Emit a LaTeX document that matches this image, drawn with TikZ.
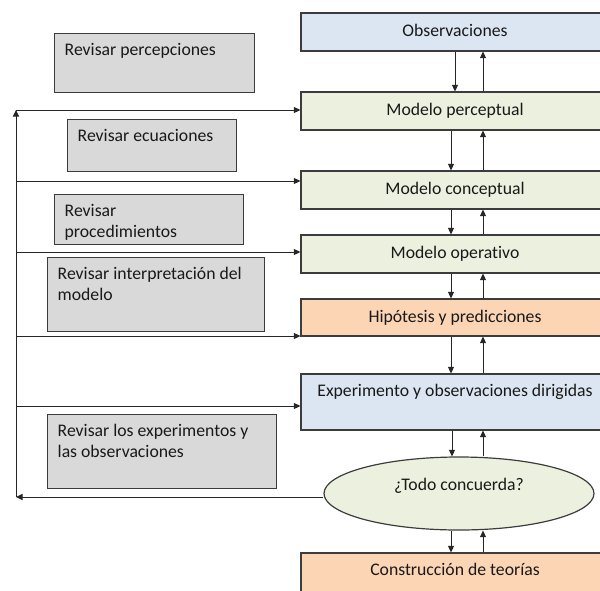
\documentclass[tikz,border=0pt]{standalone}
\usepackage{fontspec}
\setmainfont{Carlito}[Ligatures=NoCommon]
\usetikzlibrary{arrows.meta,shapes.geometric}
\definecolor{obsblue}{HTML}{DCE6F2}
\definecolor{modgreen}{HTML}{EBF1DE}
\definecolor{hypor}{HTML}{FCD5B5}
\definecolor{revgray}{HTML}{D9D9D9}
\definecolor{edge}{HTML}{3C3C3C}
\begin{document}
\begin{tikzpicture}[x=1pt,y=-1pt,
  every node/.style={font=\fontsize{17.7}{20.5}\selectfont, text=black!90},
  stage/.style={draw=edge, line width=1.2pt, rectangle, minimum width=308pt,
    minimum height=38pt, inner sep=0pt, text height=12pt, text depth=3pt},
  revbox/.style={draw=edge, fill=revgray, line width=1.2pt, rectangle,
    inner sep=0pt, anchor=north west},
  revtext/.style={inner sep=0pt, align=left, anchor=north west},
  arr/.style={-{Triangle[length=6.5pt,width=6pt]}, line width=1pt, draw=black!85},
]
\useasboundingbox (0,0) rectangle (600,590);

% main column of stages
\node[stage, fill=obsblue] (obs) at (455,32) {Observaciones};
\node[stage, fill=modgreen] (mp) at (455,111) {Modelo perceptual};
\node[stage, fill=modgreen] (mc) at (455,190) {Modelo conceptual};
\node[stage, fill=modgreen] (mo) at (455,254) {Modelo operativo};
\node[stage, fill=hypor, minimum height=37pt] (hip) at (455,317.5) {Hipótesis y predicciones};
\node[stage, fill=obsblue, minimum height=56pt, text depth=22.6pt] (exp) at (455,402)
  {Experimento y observaciones dirigidas};
\node[draw=edge, fill=modgreen, line width=1.2pt, ellipse, minimum width=270pt,
  minimum height=73pt, inner sep=0pt, text height=12pt, text depth=17.6pt] (ok) at (459,493.5)
  {¿Todo concuerda?};
\node[stage, fill=hypor, minimum height=47pt, text depth=13.6pt] (teo) at (455,576.5)
  {Construcción de teorías};

% revision boxes on the left
\node[revbox, minimum width=200pt, minimum height=59pt] (rp) at (54,33) {};
\node[revtext] (rpt) at ([shift={(10.5pt,-8.2pt)}]rp.north west) {\strut Revisar percepciones};
\node[revbox, minimum width=169pt, minimum height=52pt] (re) at (67,119) {};
\node[revtext] (ret) at ([shift={(10.5pt,-8.2pt)}]re.north west) {\strut Revisar ecuaciones};
\node[revbox, minimum width=189pt, minimum height=50pt] (rpr) at (54,194) {};
\node[revtext] (rprt) at ([shift={(10.5pt,-8.2pt)}]rpr.north west) {\strut Revisar\\procedimientos};
\node[revbox, minimum width=217pt, minimum height=74pt] (ri) at (47,257) {};
\node[revtext] (rit) at ([shift={(10.5pt,-8.2pt)}]ri.north west) {\strut Revisar interpretación del\\modelo};
\node[revbox, minimum width=229pt, minimum height=74pt] (rx) at (47,414) {};
\node[revtext] (rxt) at ([shift={(10.5pt,-8.2pt)}]rx.north west) {\strut Revisar los experimentos y\\las observaciones};

% two-way links down the column
\draw[arr] (obs.south) -- (mp.north);
\draw[arr] ([xshift=28pt]mp.north) -- ([xshift=28pt]obs.south);
\foreach \a/\b in {mp/mc, mc/mo, mo/hip, hip/exp}{
  \draw[arr] ([xshift=-4pt]\a.south) -- ([xshift=-4pt]\b.north);
  \draw[arr] ([xshift=28pt]\b.north) -- ([xshift=28pt]\a.south);
}
\draw[arr] ([xshift=-3pt]exp.south) -- ([xshift=-7pt]ok.north);
\draw[arr] ([xshift=24pt]ok.north) -- ([xshift=28pt]exp.south);
\draw[arr] ([xshift=-8pt]ok.south) -- ([xshift=-4pt]teo.north);
\draw[arr] ([xshift=28pt]teo.north) -- ([xshift=24pt]ok.south);

% feedback loop
\coordinate (lbot) at (16,497);
\coordinate (fb1) at (16,110);
\coordinate (fb2) at (16,181);
\coordinate (fb3) at (16,252);
\coordinate (fb4) at (16,336);
\coordinate (fb5) at (16,406);
\draw[arr] (ok.west |- lbot) -- (lbot);
\draw[arr] (lbot) -- (fb1);
\draw[arr] (fb1) -- (fb1 -| mp.west);
\draw[arr] (fb2) -- (fb2 -| mc.west);
\draw[arr] (fb3) -- (fb3 -| mo.west);
\draw[arr] (fb4) -- (fb4 -| hip.west);
\draw[arr] (fb5) -- (fb5 -| exp.west);
\end{tikzpicture}
\end{document}
